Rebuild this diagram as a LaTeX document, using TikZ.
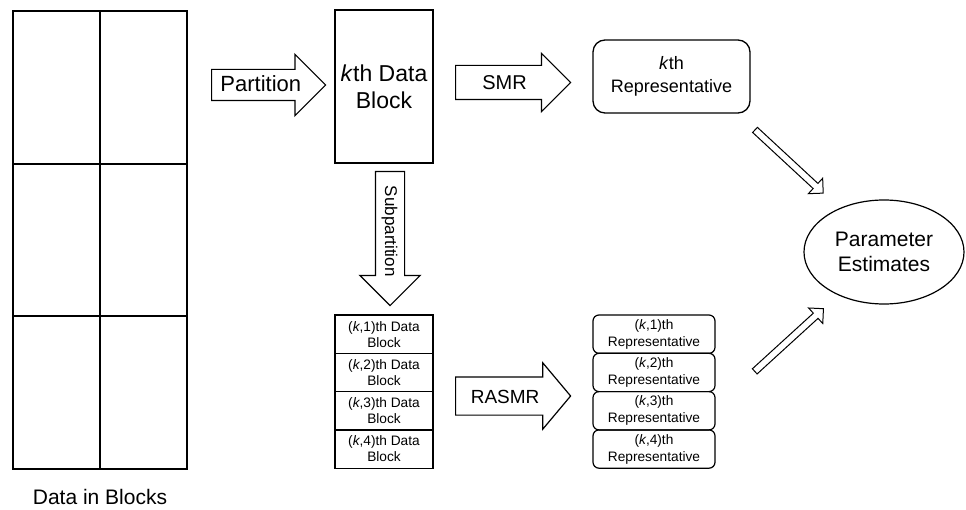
\documentclass[tikz,border=0pt]{standalone}
\usepackage{fontspec}
\setmainfont{Liberation Sans}
\usetikzlibrary{shapes.geometric,shapes.arrows}

\tikzset{
  cell/.style={minimum width=87pt, minimum height=152.5pt, inner sep=0pt},
  gridline/.style={line width=1.8pt},
  datablock/.style={draw, line width=1.3pt, minimum width=98pt, minimum height=153pt, inner sep=0pt, align=center, font=\fontsize{23}{27}\selectfont},
  subblock/.style={draw, line width=1.2pt, minimum width=98pt, minimum height=38.3pt, inner sep=0pt, align=center, font=\fontsize{13.7}{16}\selectfont},
  repbox/.style={draw, line width=1.2pt, rounded corners=6pt, minimum width=122pt, minimum height=38.3pt, inner sep=0pt, align=center, font=\fontsize{13.7}{17}\selectfont},
  bigarrow/.style={single arrow, draw, line width=1.2pt, inner xsep=2pt, text height=16pt, text depth=2pt, font=\fontsize{20}{24}\selectfont},
  thinarrow/.style={single arrow, draw, line width=1pt, inner xsep=0pt, inner ysep=3pt, minimum height=93pt, single arrow head extend=7pt},
}

\begin{document}
\begin{tikzpicture}[x=1pt, y=-1pt]
    \useasboundingbox (0,0) rectangle (966,510);

    % Datos en bloques
    \foreach \i in {1,2} {
        \foreach \j in {1,2,3} {
            \node[cell] (cell-\i-\j) at ({13+87*(\i-0.5)},{11+152.5*(\j-0.5)}) {};
        }
    }
    \draw[gridline] (cell-1-1.north west) rectangle (cell-2-3.south east);
    \draw[gridline] (cell-1-1.north east) -- (cell-1-3.south east);
    \draw[gridline] (cell-1-1.south west) -- (cell-2-1.south east);
    \draw[gridline] (cell-1-2.south west) -- (cell-2-2.south east);
    \node[font=\fontsize{21}{25}\selectfont] (blocks) at (100,497) {Data in Blocks};

    % Bloque k
    \node[datablock] (kblock) at (384,86.5) {\textit{k}th Data\\Block};
    \node[draw, line width=1.3pt, rounded corners=12pt, minimum width=157pt, minimum height=73pt,
          align=center, font=\fontsize{18}{23}\selectfont] (krep) at (671.5,76.5) {\textit{k}th\\Representative};

    % Flechas grandes
    \node[bigarrow, anchor=tail, inner ysep=6pt, single arrow head extend=15pt, minimum height=114pt,
          font=\fontsize{22}{26}\selectfont] (part) at (211,85) {Partition};
    \node[bigarrow, anchor=tail, inner ysep=7.5pt, single arrow head extend=12pt, minimum height=115pt] (smr) at (455,82.5) {SMR};
    \node[bigarrow, anchor=tail, inner ysep=9.5pt, single arrow head extend=14pt, single arrow tip angle=100, minimum height=115pt,
          font=\fontsize{19}{23}\selectfont] (rasmr) at (455,396) {RASMR};
    \node[bigarrow, anchor=tail, rotate=-90, inner ysep=6pt, single arrow head extend=15.5pt, minimum height=134pt,
          text height=13pt, text depth=3pt, font=\fontsize{17}{20}\selectfont] (subpart) at (390,171) {Subpartition};

    % Sub-bloques y representantes
    \foreach \n in {1,2,3,4} {
        \node[subblock] (sub\n) at (384,{334.15+38.3*(\n-1)}) {(\textit{k},\n)th Data\\Block};
        \node[repbox] (rep\n) at (654,{334.15+38.3*(\n-1)}) {(\textit{k},\n)th\\Representative};
    }

    % Estimaciones
    \node[ellipse, draw, line width=1.2pt, minimum width=160pt, minimum height=104pt, inner sep=0pt,
          align=center, font=\fontsize{21}{25}\selectfont] (est) at (884,252) {Parameter\\Estimates};

    % Flechas hacia la estimacion
    \path ([shift={(3,15)}]krep.south east) -- ([shift={(-62,-60)}]est.center)
        node[thinarrow, sloped, midway] (up) {};
    \path ([shift={(38,58)}]rep1.north east) -- ([shift={(-62,58)}]est.center)
        node[thinarrow, sloped, midway] (down) {};
\end{tikzpicture}
\end{document}
